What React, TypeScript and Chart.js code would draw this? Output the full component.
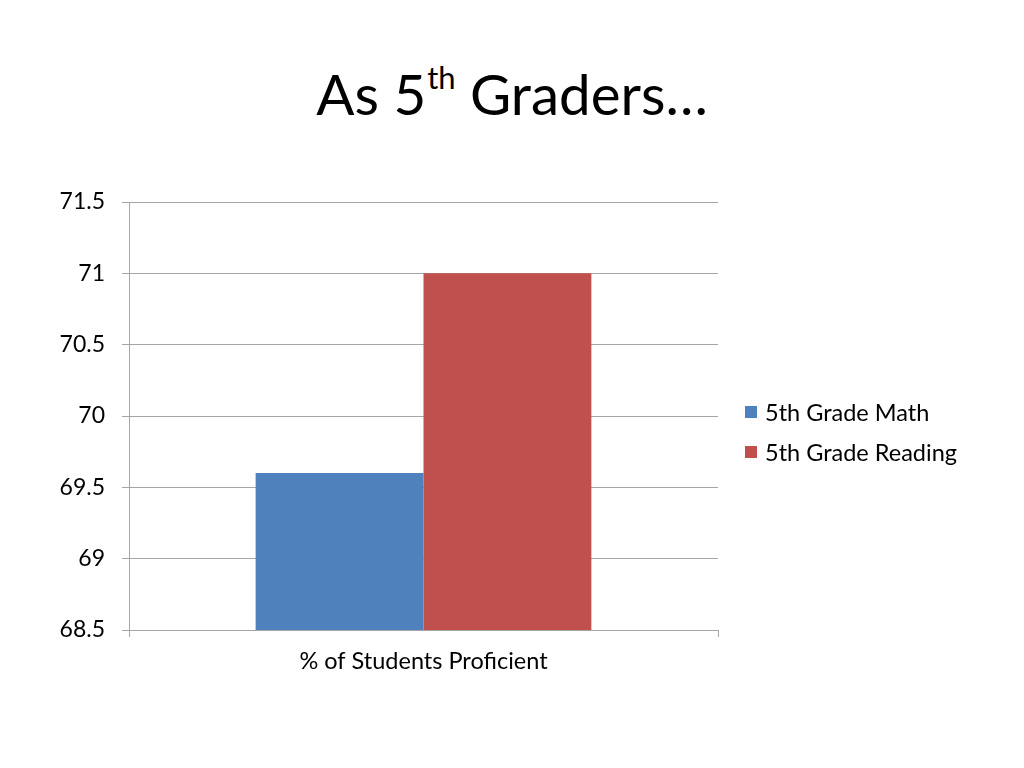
import React, { useEffect, useRef } from "react";
import { Chart, registerables } from "chart.js";

Chart.register(...registerables);

const categories = ["% of Students Proficient"];
const seriesNames = ["5th Grade Math", "5th Grade Reading"];
const mathValues = [69.6];
const readingValues = [71];
const seriesColors = ["#4F81BD", "#C0504D"];
const yMin = 68.5;
const yMax = 71.5;
const yStep = 0.5;

const FONT = "Lato, 'Open Sans', sans-serif";
const GRID = "#a6a6a6";

export default function App() {
  const ref = useRef<HTMLCanvasElement | null>(null);

  useEffect(() => {
    if (!ref.current) return;
    const chart = new Chart(ref.current, {
      type: "bar",
      data: {
        labels: categories,
        datasets: [
          { label: seriesNames[0], data: mathValues, backgroundColor: seriesColors[0], borderWidth: 0 },
          { label: seriesNames[1], data: readingValues, backgroundColor: seriesColors[1], borderWidth: 0 },
        ],
      },
      options: {
        animation: false,
        responsive: false,
        layout: { padding: { left: 0, right: 306, top: 202, bottom: 0 } },
        plugins: { legend: { display: false }, title: { display: false }, tooltip: { enabled: false } },
        datasets: { bar: { categoryPercentage: 0.57, barPercentage: 1 } },
        scales: {
          x: {
            offset: true,
            grid: { display: true, offset: true, drawOnChartArea: false, drawTicks: true, tickLength: 7, color: GRID },
            border: { display: true, color: GRID },
            ticks: { color: "#000", font: { family: FONT, size: 23.5 }, padding: 10 },
            afterFit: (s: any) => { s.height = 138; },
          },
          y: {
            min: yMin,
            max: yMax,
            grid: { color: GRID, tickLength: 7, drawTicks: true },
            border: { display: true, color: GRID },
            ticks: {
              stepSize: yStep,
              color: "#000",
              font: { family: FONT, size: 23 },
              padding: 17,
              callback: (v: any) => String(Number(v)),
            },
            afterFit: (s: any) => { s.width = 129; },
          },
        },
      },
    });
    return () => chart.destroy();
  }, []);

  return (
    <div style={{ position: "fixed", left: 0, top: 0, width: 1024, height: 768, background: "#fff", fontFamily: FONT }}>
      <div style={{ position: "absolute", left: 0, top: 58, width: 1024, textAlign: "center", fontSize: 56.5, lineHeight: "70px", color: "#000", whiteSpace: "nowrap" }}>
        As 5<sup style={{ fontSize: 31, verticalAlign: "top", lineHeight: "40px", position: "relative", top: -1, marginLeft: 1 }}>th</sup> Graders…
      </div>
      <canvas ref={ref} width={1024} height={768} style={{ position: "absolute", left: 0, top: 0 }} />
      <div style={{ position: "absolute", left: 745, top: 397 }}>
        {seriesNames.map((n, i) => (
          <div key={n} style={{ display: "flex", alignItems: "center", height: 30, marginBottom: 10, fontSize: 23.5, color: "#000" }}>
            <span style={{ width: 12, height: 12, background: seriesColors[i], display: "inline-block", marginRight: 8 }} />
            {n}
          </div>
        ))}
      </div>
    </div>
  );
}
